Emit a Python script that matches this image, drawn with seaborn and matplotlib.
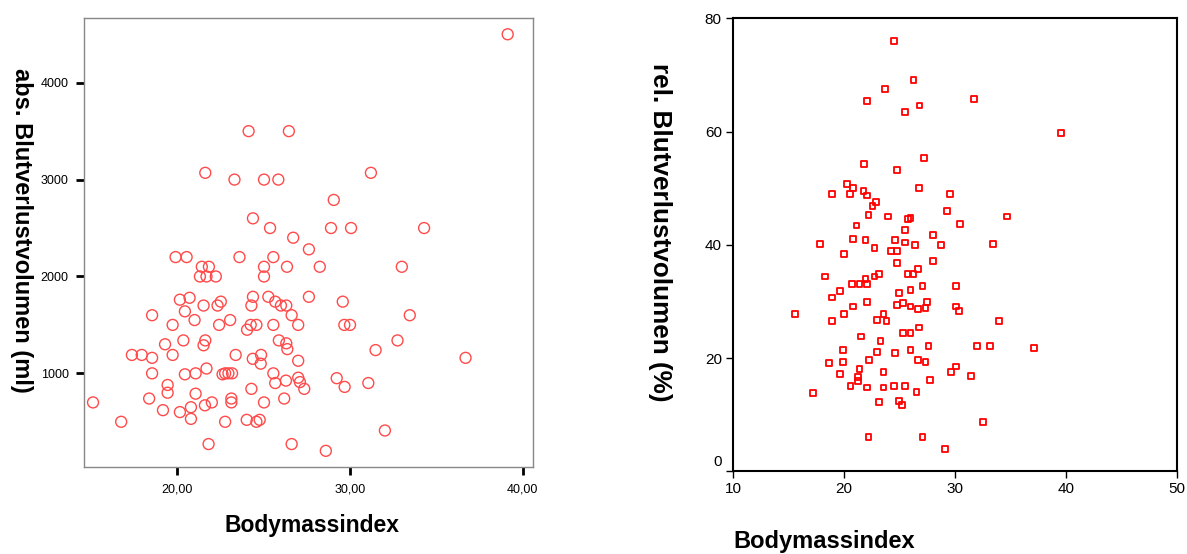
import matplotlib
matplotlib.use("Agg")
import matplotlib.pyplot as plt
import matplotlib.transforms as mtransforms
from matplotlib.ticker import FuncFormatter
import pandas as pd
import seaborn as sns

# Absolute blood loss (ml) against body mass index
bmi_abs = [39.13, 24.13, 26.46, 21.62, 23.31, 25.02, 25.85, 31.21, 29.06, 24.38,
           25.37, 28.90, 30.06, 34.29, 26.71, 27.62, 19.90, 20.54, 23.60, 25.56,
           21.42, 21.83, 25.02, 26.35, 28.25, 33.00, 21.31, 21.69, 22.23, 25.02,
           20.15, 20.71, 21.52, 22.33, 22.52, 24.38, 24.29, 25.27, 25.67, 26.00,
           26.31, 27.62, 29.58, 20.44, 18.54, 21.00, 19.73, 23.06, 22.42, 26.62,
           24.04, 24.25, 24.58, 25.56, 27.00, 29.67, 30.00, 33.46, 20.35, 19.29,
           21.62, 21.52, 25.88, 26.31, 26.37, 32.75, 31.48, 17.37, 17.94, 18.54,
           19.73, 23.38, 24.37, 24.85, 24.83, 27.00, 36.69, 18.54, 20.44, 21.06,
           21.69, 22.62, 22.77, 22.96, 23.17, 25.56, 25.67, 26.29, 27.00, 27.10,
           27.35, 29.23, 29.69, 31.06, 19.44, 19.44, 24.29, 15.12, 18.37, 21.06,
           23.13, 23.13, 22.00, 21.60, 20.79, 25.02, 26.19, 19.17, 20.15, 20.79,
           16.75, 22.77, 24.02, 24.58, 24.77, 32.02, 21.81, 26.62, 28.60]
volume_ml = [4500, 3500, 3500, 3070, 3000, 3000, 3000, 3070, 2790, 2600,
             2500, 2500, 2500, 2500, 2400, 2280, 2200, 2200, 2200, 2200,
             2100, 2100, 2100, 2100, 2100, 2100, 2000, 2000, 2000, 2000,
             1760, 1780, 1700, 1700, 1740, 1790, 1700, 1790, 1740, 1700,
             1700, 1790, 1740, 1640, 1600, 1550, 1500, 1550, 1500, 1600,
             1450, 1500, 1500, 1500, 1500, 1500, 1500, 1600, 1340, 1300,
             1340, 1290, 1340, 1310, 1250, 1340, 1240, 1190, 1190, 1160,
             1190, 1190, 1150, 1190, 1100, 1130, 1160, 1000, 990, 1000,
             1050, 990, 1000, 1000, 1000, 1000, 900, 925, 955, 910,
             840, 950, 860, 900, 880, 800, 840, 700, 740, 790,
             740, 700, 700, 670, 650, 700, 740, 620, 600, 530,
             500, 500, 520, 500, 520, 410, 270, 270, 200]

# Relative blood loss (%) against body mass index
bmi_rel = [24.53, 26.27, 23.71, 22.06, 26.81, 31.68, 25.49, 39.56, 27.23, 21.79,
           24.77, 20.29, 20.83, 26.78, 18.96, 20.56, 21.76, 22.06, 29.52, 22.87,
           22.57, 29.25, 22.21, 23.95, 25.76, 26.00, 34.69, 21.13, 30.48, 25.49,
           28.05, 20.83, 21.94, 24.62, 25.49, 17.88, 26.39, 28.71, 33.43,
           22.75, 24.26, 24.80, 20.02, 28.05, 24.80, 26.69, 23.14, 25.73, 26.27,
           22.75, 18.27, 21.94, 20.71, 21.40, 22.06, 27.08, 30.06, 26.00, 19.62,
           24.95, 18.96, 22.06, 25.34, 24.80, 27.50, 20.83, 26.00, 27.35, 26.69,
           30.06, 30.33, 15.56, 20.02, 23.56, 22.99, 23.83, 18.96, 34.00, 26.78,
           25.34, 26.00, 21.52, 23.29, 27.62, 31.96, 33.19, 37.10, 19.92, 26.00,
           22.99, 24.62, 22.27, 26.69, 27.35, 19.92, 18.66, 30.06, 21.40, 29.64,
           23.56, 19.62, 31.44, 21.25, 21.25, 27.74, 20.59, 22.06, 23.56, 24.53,
           25.49, 17.19, 26.54, 23.14, 24.95, 25.19, 32.50, 22.21, 27.08, 29.10]
volume_pct = [76.0, 69.1, 67.5, 65.4, 64.6, 65.7, 63.5, 59.8, 55.3, 54.3,
              53.2, 50.8, 50.0, 50.0, 49.0, 49.0, 49.5, 48.7, 49.0, 47.6,
              46.8, 46.0, 45.3, 45.0, 44.5, 44.7, 45.0, 43.4, 43.7, 42.6,
              41.8, 41.0, 40.8, 40.8, 40.4, 40.2, 39.9, 39.9, 40.2,
              39.5, 38.9, 38.9, 38.4, 37.1, 36.8, 35.8, 34.9, 34.9, 34.9,
              34.4, 34.4, 33.9, 33.1, 33.1, 33.1, 32.8, 32.8, 32.0, 31.8,
              31.5, 30.7, 29.9, 29.7, 29.4, 29.9, 29.1, 29.1, 28.8, 28.6,
              29.1, 28.3, 27.8, 27.8, 27.8, 26.7, 26.5, 26.5, 26.5, 25.4,
              24.4, 24.4, 23.8, 23.0, 22.2, 22.2, 22.2, 21.7, 21.4, 21.4,
              21.1, 20.9, 19.6, 19.6, 19.3, 19.3, 19.1, 18.5, 18.0, 17.5,
              17.5, 17.2, 16.9, 16.7, 15.9, 16.1, 15.1, 14.8, 14.8, 15.1,
              15.1, 13.8, 14.0, 12.2, 12.4, 11.7, 8.7, 6.1, 6.1, 3.9]

left_xticks = [20, 30, 40]
left_yticks = [1000, 2000, 3000, 4000]
right_xticks = [10, 20, 30, 40, 50]
right_yticks = [0, 20, 40, 60, 80]

x_label = "Bodymassindex"
left_ylabel = "abs. Blutverlustvolumen (ml)"
right_ylabel = "rel. Blutverlustvolumen (%)"

df_abs = pd.DataFrame({"bmi": bmi_abs, "volume": volume_ml})
df_rel = pd.DataFrame({"bmi": bmi_rel, "volume": volume_pct})

sns.set_theme(style="white")
plt.rcParams["font.family"] = ["Liberation Sans", "DejaVu Sans"]
plt.rcParams["text.color"] = "black"
plt.rcParams["axes.labelcolor"] = "black"

fig = plt.figure(figsize=(11.87, 5.54), dpi=100)
fig.patch.set_facecolor("white")

# ---- left panel: absolute volume, open circles ----
ax1 = fig.add_axes([0.0708, 0.157, 0.3783, 0.8105])
sns.scatterplot(data=df_abs, x="bmi", y="volume", ax=ax1, marker="o", s=62,
                fc="none", ec="#ff4a4a", linewidth=1.0, legend=False)
ax1.set_xlim(14.6, 40.6)
ax1.set_ylim(33, 4668)
ax1.set_xticks(left_xticks)
ax1.set_yticks(left_yticks)
ax1.xaxis.set_major_formatter(FuncFormatter(lambda v, p: f"{v:.2f}".replace(".", ",")))
ax1.yaxis.set_major_formatter(FuncFormatter(lambda v, p: f"{v:.0f}"))
for sp in ax1.spines.values():
    sp.set_color("#888888")
    sp.set_linewidth(1.0)
ax1.tick_params(axis="both", which="major", direction="out", length=6, width=2,
                color="black", labelsize=9, labelcolor="black", pad=5,
                bottom=True, left=True)
ax1.tick_params(axis="x", pad=6)
ax1.set_xlabel(x_label, fontsize=16.5, fontweight="bold", va="center")
ax1.set_ylabel(left_ylabel, fontsize=17, fontweight="bold", rotation=-90,
               va="center", ha="center")
ax1.xaxis.set_label_coords(0.508, -0.131)
ax1.yaxis.set_label_coords(-0.14, 0.528)

# ---- right panel: relative volume, open squares ----
ax2 = fig.add_axes([0.6175, 0.1493, 0.374, 0.8177])
sns.scatterplot(data=df_rel, x="bmi", y="volume", ax=ax2, marker="s", s=18,
                fc="none", ec="#ff0000", linewidth=1.3, legend=False)
ax2.set_xlim(10, 50)
ax2.set_ylim(0, 80)
ax2.set_xticks(right_xticks)
ax2.set_yticks(right_yticks)
for sp in ax2.spines.values():
    sp.set_color("black")
    sp.set_linewidth(1.5)
ax2.tick_params(axis="both", which="major", direction="out", length=5, width=1,
                color="black", labelsize=11, labelcolor="black", pad=3,
                bottom=True, left=True)
# the zero label sits a little above its tick
zero_label = ax2.yaxis.get_major_ticks()[0].label1
zero_label.set_transform(zero_label.get_transform()
                         + mtransforms.ScaledTranslation(0, 8 / 72, fig.dpi_scale_trans))
ax2.set_xlabel(x_label, fontsize=17, fontweight="bold", loc="left", va="center")
ax2.set_ylabel(right_ylabel, fontsize=18.8, fontweight="bold", rotation=-90,
               va="center", ha="center")
ax2.xaxis.set_label_coords(0.0, -0.156)
ax2.xaxis.label.set_ha("left")
ax2.yaxis.set_label_coords(-0.164, 0.528)

fig.savefig("out.png", dpi=100, facecolor="white")
